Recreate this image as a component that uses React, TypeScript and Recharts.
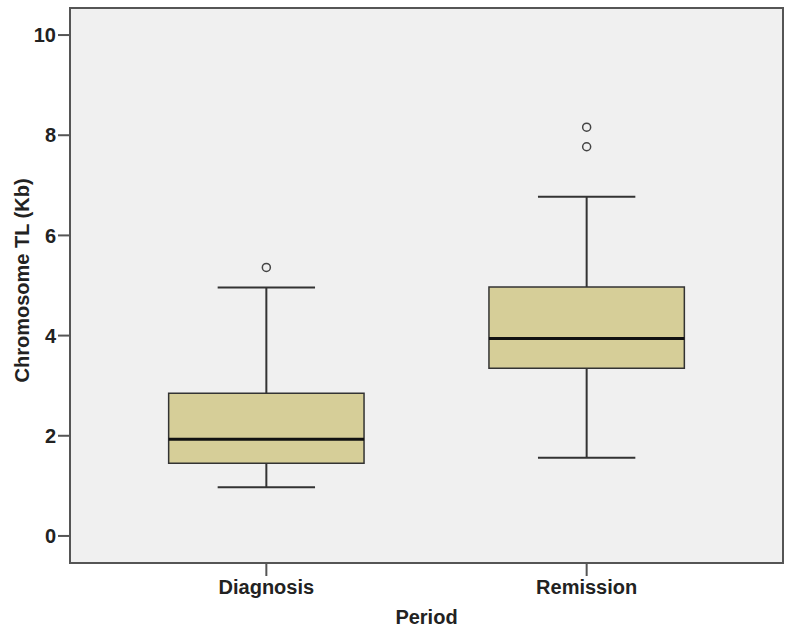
import React from 'react';
import {
    ComposedChart,
    XAxis,
    YAxis,
    Scatter,
    ReferenceArea,
    ReferenceLine,
    Label,
} from 'recharts';

const periods = ['Diagnosis', 'Remission'];
const lowerWhisker = [0.97, 1.56];
const q1 = [1.45, 3.35];
const median = [1.93, 3.94];
const q3 = [2.85, 4.97];
const upperWhisker = [4.96, 6.77];
const outliers = [[5.36], [7.77, 8.16]];
const yTicks = [0, 2, 4, 6, 8, 10];

const X_DOMAIN: [number, number] = [0.387, 2.613];
const Y_DOMAIN: [number, number] = [-0.54, 10.54];
const BOX_HALF = 0.305;
const CAP_HALF = 0.152;

const FONT = '"Liberation Sans", Arial, sans-serif';
const INK = '#333';

const outlierPoints = outliers.flatMap((vals, i) => vals.map((v) => ({ x: i + 1, y: v })));

const OutlierDot = (props: any) => (
    <circle cx={props.cx} cy={props.cy} r={4} fill="#f0f0f0" stroke="#444" strokeWidth={1.5} />
);

export default function App() {
    return (
        <div style={{ position: 'absolute', left: 0, top: 0, background: '#fff' }}>
            <ComposedChart width={792} height={635} margin={{ top: 8, right: 9, left: 0, bottom: 0 }}>
                <XAxis
                    type="number"
                    dataKey="x"
                    domain={X_DOMAIN}
                    allowDataOverflow
                    ticks={[1, 2]}
                    tickFormatter={(v: number) => periods[v - 1] ?? ''}
                    height={72}
                    stroke="#555"
                    strokeWidth={2}
                    tickSize={13}
                    tickMargin={4}
                    tick={{ fontSize: 20, fontWeight: 'bold', fill: '#222', fontFamily: FONT }}
                >
                    <Label
                        value="Period"
                        position="insideBottom"
                        offset={11}
                        style={{ fontSize: 20, fontWeight: 'bold', fill: '#222', fontFamily: FONT }}
                    />
                </XAxis>
                <YAxis
                    type="number"
                    dataKey="y"
                    domain={Y_DOMAIN}
                    allowDataOverflow
                    ticks={yTicks}
                    width={70}
                    stroke="#555"
                    strokeWidth={2}
                    tickSize={12}
                    tickMargin={2}
                    tick={{ fontSize: 20, fontWeight: 'bold', fill: '#222', fontFamily: FONT }}
                >
                    <Label
                        value="Chromosome TL (Kb)"
                        angle={-90}
                        position="center"
                        dx={-13}
                        dy={-5}
                        style={{ fontSize: 20, fontWeight: 'bold', fill: '#222', fontFamily: FONT, textAnchor: 'middle' }}
                    />
                </YAxis>

                {/* plot background + frame */}
                <ReferenceArea
                    x1={X_DOMAIN[0]}
                    x2={X_DOMAIN[1]}
                    y1={Y_DOMAIN[0]}
                    y2={Y_DOMAIN[1]}
                    fill="#f0f0f0"
                    fillOpacity={1}
                    stroke="#555"
                    strokeWidth={2}
                />

                {periods.map((p, i) => {
                    const x = i + 1;
                    return (
                        <React.Fragment key={p}>
                            <ReferenceLine segment={[{ x, y: lowerWhisker[i] }, { x, y: q1[i] }]} stroke={INK} strokeWidth={2} />
                            <ReferenceLine segment={[{ x, y: q3[i] }, { x, y: upperWhisker[i] }]} stroke={INK} strokeWidth={2} />
                            <ReferenceLine
                                segment={[{ x: x - CAP_HALF, y: lowerWhisker[i] }, { x: x + CAP_HALF, y: lowerWhisker[i] }]}
                                stroke={INK}
                                strokeWidth={2}
                            />
                            <ReferenceLine
                                segment={[{ x: x - CAP_HALF, y: upperWhisker[i] }, { x: x + CAP_HALF, y: upperWhisker[i] }]}
                                stroke={INK}
                                strokeWidth={2}
                            />
                            <ReferenceArea
                                x1={x - BOX_HALF}
                                x2={x + BOX_HALF}
                                y1={q1[i]}
                                y2={q3[i]}
                                fill="#d6ce98"
                                fillOpacity={1}
                                stroke={INK}
                                strokeWidth={1.5}
                            />
                            <ReferenceLine
                                segment={[{ x: x - BOX_HALF, y: median[i] }, { x: x + BOX_HALF, y: median[i] }]}
                                stroke="#111"
                                strokeWidth={3}
                            />
                        </React.Fragment>
                    );
                })}

                <Scatter data={outlierPoints} dataKey="y" shape={<OutlierDot />} isAnimationActive={false} />
            </ComposedChart>
        </div>
    );
}
